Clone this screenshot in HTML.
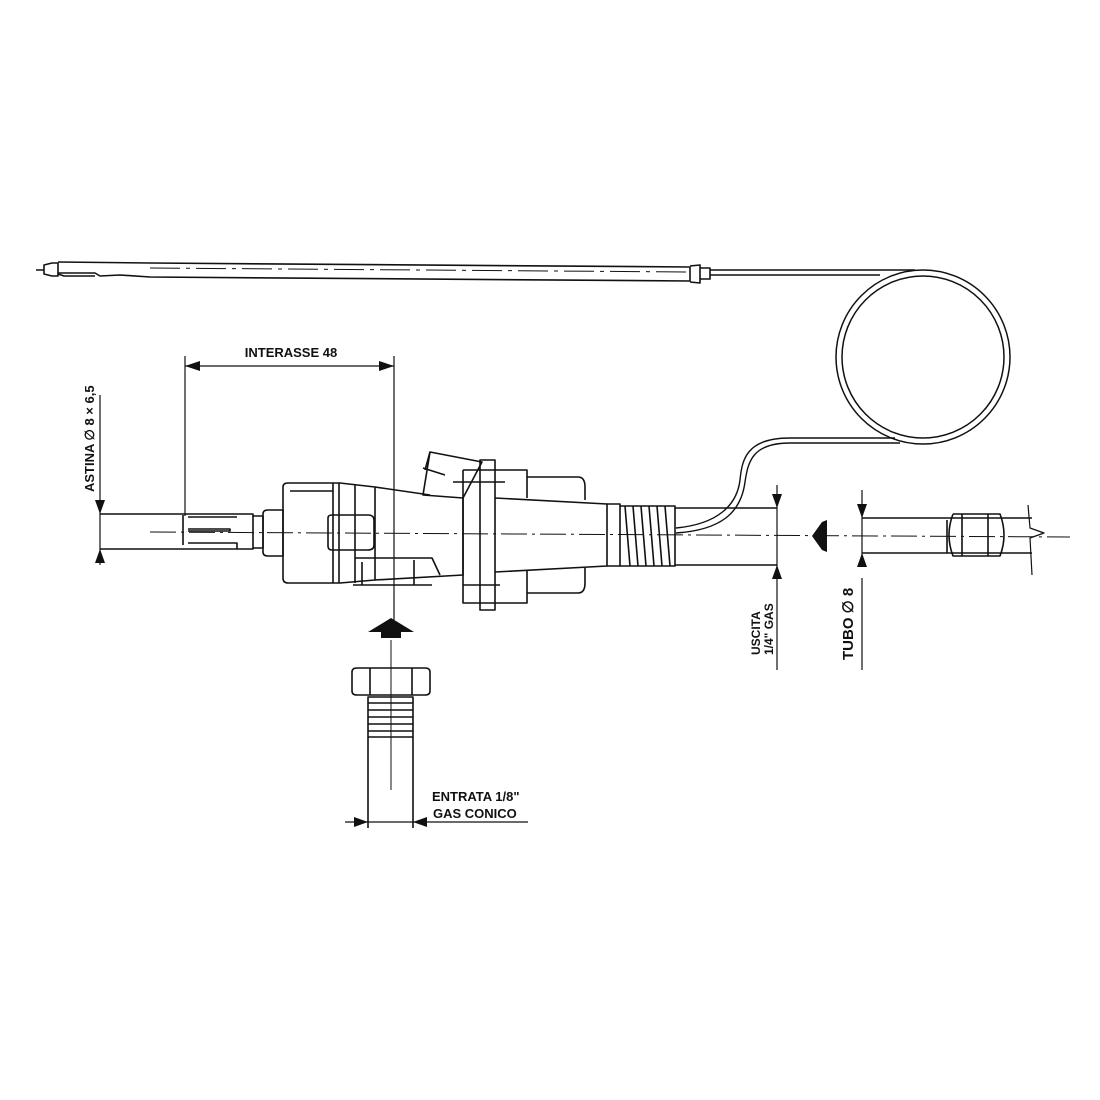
<!DOCTYPE html>
<html><head><meta charset="utf-8"><style>
html,body{margin:0;padding:0;background:#fff}
svg{display:block}
text{font-family:"Liberation Sans",sans-serif;font-weight:bold;fill:#111}
</style></head><body>
<svg width="1100" height="1100" viewBox="0 0 1100 1100" xmlns="http://www.w3.org/2000/svg">
<g fill="none" stroke="#111" stroke-width="1.6" stroke-linejoin="round">
<!-- bulb -->
<path d="M36 270 L44 270 M44 265 L52 263 L58 263 L58 276 L52 276 L44 274 Z"/>
<path d="M58 262 L150 263 L690 267 L690 281 L150 277 L120 275 L100 276 L95 273 L58 273"/>
<path d="M58 274 L64 276 L95 276"/>
<path d="M150 268 L690 272" stroke-dasharray="30 6 4 6" stroke-width="1"/>
<path d="M690 266 L700 265 L700 283 L690 282 M700 268 L710 268 L710 279 L700 279"/>
<!-- capillary -->
<path d="M710 270 L915 270" stroke-width="1.4"/>
<path d="M710 275 L880 275" stroke-width="1.4"/>
<circle cx="923" cy="357" r="87" stroke-width="1.5"/>
<circle cx="923" cy="357" r="81" stroke-width="1.5"/>
<path d="M900 443 L790 443 C752 443 748 462 745 482 C741 512 722 530 676 533" stroke-width="1.4"/>
<path d="M895 438 L790 438 C746 438 742 460 740 480 C737 505 718 524 676 528" stroke-width="1.4"/>
<!-- centerline -->
<path d="M150 532 L1070 537" stroke-width="1" stroke-dasharray="26 5 3 5"/>
<!-- rod -->
<path d="M100 514 L253 514 L253 549 L100 549"/>
<path d="M183 515 L183 545 M188 517 L237 517 M188 529 L230 529 L230 531 L188 531 M188 543 L237 543 L237 549"/>
<path d="M253 516 L263 516 L263 548 L253 548"/>
<path d="M263 514 Q263 510 268 510 L283 510 L283 556 L268 556 Q263 556 263 552 Z"/>
<!-- block1 -->
<path d="M283 487 Q283 483 288 483 L340 483 L375 487 L375 580 L340 583 L288 583 Q283 583 283 578 Z"/>
<path d="M333 483 L333 583 M339 483 L339 583 M355 484 L355 583"/>
<path d="M290 491 L333 491"/>
<path d="M328 518 Q328 515 332 515 L368 515 Q374 515 374 520 L374 545 Q374 550 368 550 L332 550 Q328 550 328 546 Z"/>
<!-- taper -->
<path d="M375 487 L430 495 M375 580 L463 575 L463 498"/>
<path d="M355 558 L432 558 L440 575 M353 585 L432 585 M362 562 L362 585 M414 560 L414 585"/>
<!-- tilted button -->
<path d="M430 452 L482 462 L463 498 L423 495 Z"/>
<path d="M423 468 L445 475 M425 470 L430 452"/>
<!-- flange -->
<path d="M463 470 L527 470 L527 498 M463 470 L463 603 L527 603 L527 570"/>
<path d="M480 460 L495 460 L495 610 L480 610 Z"/>
<path d="M453 482 L505 482 M463 585 L500 585"/>
<path d="M527 477 L578 477 Q585 477 585 487 L585 500 M527 593 L578 593 Q585 593 585 583 L585 568"/>
<path d="M495 498 L607 504 L607 566 L495 572"/>
<path d="M607 504 L620 504 L620 566 L607 566"/>
<!-- thread -->
<path d="M620 506 L675 506 L675 566 L620 566"/>
<path d="M625 506 L630 566 M633 506 L638 566 M641 506 L646 566 M649 506 L654 566 M657 506 L662 566 M665 506 L670 566"/>
<!-- uscita dim -->
<path d="M675 508 L777 508 M675 565 L777 565"/>
<path d="M777 485 L777 670" stroke-width="1.2"/>
<!-- tube -->
<path d="M862 518 L1032 518 M862 553 L1032 553"/>
<path d="M947 520 L947 553 M953 514 L1000 514 Q1008 535 1000 556 L953 556 Q945 535 953 514 M962 514 L962 556 M988 514 L988 556"/>
<path d="M1028 505 L1030 528 L1044 533 L1030 538 L1032 575" stroke-width="1.2"/>
<path d="M862 490 L862 560 M862 578 L862 670" stroke-width="1.2"/>
<!-- dims left -->
<path d="M100 395 L100 565" stroke-width="1.2"/>
<path d="M185 356 L185 516 M394 356 L394 620" stroke-width="1.2"/>
<path d="M185 366 L394 366" stroke-width="1.2"/>
<!-- inlet -->
<path d="M391 640 L391 790" stroke-width="1"/>
<path d="M352 672 Q352 668 357 668 L425 668 Q430 668 430 672 L430 691 Q430 695 425 695 L357 695 Q352 695 352 691 Z"/>
<path d="M370 668 L370 695 M412 668 L412 695"/>
<path d="M368 697 L413 697 L413 737 L368 737 Z"/>
<path d="M368 703 L413 703 M368 710 L413 710 M368 717 L413 717 M368 724 L413 724 M368 731 L413 731"/>
<path d="M368 737 L368 828 M413 737 L413 828"/>
<path d="M345 822 L528 822" stroke-width="1.2"/>
</g>
<g fill="#111">
<polygon points="100,514 95,500 105,500"/>
<polygon points="100,549 95,563 105,563"/>
<polygon points="185,366 200,361 200,371"/>
<polygon points="394,366 379,361 379,371"/>
<polygon points="777,508 772,494 782,494"/>
<polygon points="777,565 772,579 782,579"/>
<polygon points="862,518 857,504 867,504"/>
<polygon points="862,553 857,567 867,567"/>
<polygon points="368,822 354,817 354,827"/>
<polygon points="413,822 427,817 427,827"/>
<polygon points="812,536 822,522 827,520 827,552 822,550"/>
<polygon points="368,632 391,618 414,632 401,632 401,638 381,638 381,632"/>
</g>
<text x="291" y="357" font-size="13" text-anchor="middle">INTERASSE 48</text>
<text transform="translate(94,492) rotate(-90)" font-size="13">ASTINA ∅ 8 × 6,5</text>
<text transform="translate(760,655) rotate(-90)" font-size="12">USCITA</text>
<text transform="translate(773,655) rotate(-90)" font-size="12">1/4" GAS</text>
<text transform="translate(853,660) rotate(-90)" font-size="15">TUBO ∅ 8</text>
<text x="432" y="801" font-size="13">ENTRATA 1/8"</text>
<text x="433" y="818" font-size="13">GAS CONICO</text>
</svg>
</body></html>
